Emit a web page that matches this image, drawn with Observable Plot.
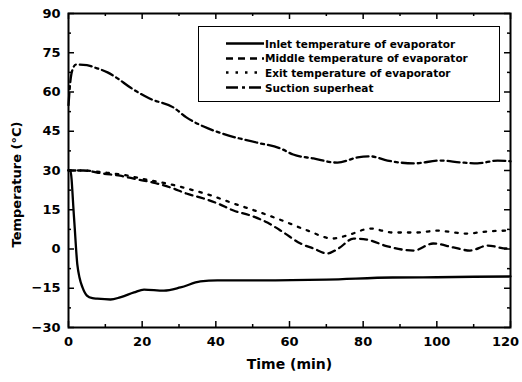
<!DOCTYPE html>
<html>
<head>
<meta charset="utf-8">
<script src="https://cdn.jsdelivr.net/npm/d3@7"></script>
<script src="https://cdn.jsdelivr.net/npm/@observablehq/plot@0.6"></script>
<style>
  html, body { margin: 0; padding: 0; background: #fff; }
  #chart { position: relative; width: 522px; height: 382px; font-family: "DejaVu Sans", sans-serif; }
  #legend { position: absolute; left: 198px; top: 26px; width: 302px; height: 76px; border: 1.5px solid #000; background: #fff; box-sizing: border-box; }
  #legend .row { position: absolute; left: 27px; height: 15px; display: flex; align-items: center; }
  #legend .row span { font-size: 10.5px; font-weight: bold; margin-left: 1px; white-space: nowrap; }
</style>
</head>
<body>
<div id="chart"></div>
<script>
const seriesNames = ["Inlet temperature of evaporator", "Middle temperature of evaporator", "Exit temperature of evaporator", "Suction superheat"];
const dashes = [null, "7,5", "2.5,7", "12,4,3,4"];

const inletT = [0, 0.5, 1.5, 2.4, 3, 3.8, 5, 6.5, 7.8, 11.4, 14, 17.8, 20.5, 25.9, 30.4, 35.8, 40.4, 52, 70, 88, 100, 110, 120];
const inletV = [30, 30, 12, -6, -11, -14.7, -17.8, -18.8, -19, -19.3, -18.5, -16.6, -15.5, -15.9, -14.7, -12.4, -12, -12, -11.7, -10.9, -10.8, -10.6, -10.5];

const middleT = [0, 4, 9.5, 14, 18.7, 23, 27.7, 32, 36.7, 40.5, 44.8, 49.4, 54, 58.4, 63, 66.5, 70.3, 73.3, 77.4, 81, 86.6, 93.7, 99, 104.5, 109, 113.8, 119, 120];
const middleV = [30, 30, 28.8, 28, 26.6, 25.4, 23.5, 21.2, 19.3, 17.4, 14.7, 12.8, 10.1, 6.3, 2.1, 0.2, -1.7, 0.2, 4, 3.6, 1, -0.6, 2.1, 0.6, -0.6, 1.3, 0.2, 0.2];

const exitT = [0, 4, 10, 15, 21.5, 28, 34, 39, 44, 52, 58, 65, 71.7, 75.7, 82, 88, 94.7, 100, 108, 113.7, 119, 120];
const exitV = [30, 30, 29.2, 28.3, 26.4, 24.6, 22.4, 20.3, 17.8, 14, 10.9, 7, 4, 5.2, 7.8, 6.3, 6.3, 7, 5.9, 6.7, 7, 7];

const superT = [0, 0.5, 1.2, 2, 5, 7, 10.6, 13, 16.8, 22, 28.6, 32, 36.7, 42, 51, 57.6, 61, 66.5, 73, 78.5, 82, 86.6, 93.7, 101, 106.4, 111, 116.5, 120];
const superV = [55, 64, 69, 70.5, 70.3, 69.4, 67.5, 65.5, 61.7, 57.5, 54, 50.3, 46.8, 44, 40.7, 38.4, 36.1, 34.6, 33, 35, 35.4, 33.8, 32.7, 33.8, 33.1, 32.7, 33.8, 33.5];

const xTicks = [0, 20, 40, 60, 80, 100, 120];
const xMinor = [10, 30, 50, 70, 90, 110];
const yTicks = [-30, -15, 0, 15, 30, 45, 60, 75, 90];
const yMinor = [-22.5, -7.5, 7.5, 22.5, 37.5, 52.5, 67.5, 82.5];

const series = [
  {name: seriesNames[0], t: inletT, v: inletV},
  {name: seriesNames[1], t: middleT, v: middleV},
  {name: seriesNames[2], t: exitT, v: exitV},
  {name: seriesNames[3], t: superT, v: superV}
];
const rows = series.flatMap(s => s.t.map((t, i) => ({name: s.name, t, v: s.v[i]})));

const W = 522, H = 382, mL = 68, mR = 12, mT = 13, mB = 55;
const pw = W - mL - mR, ph = H - mT - mB;

const lineMarks = series.map((s, i) => Plot.line(rows.filter(d => d.name === s.name), {
  x: "t", y: "v", stroke: "#000", strokeWidth: 2.3, strokeDasharray: dashes[i], curve: "monotone-x"
}));

const tickMarks = (vals, len) => [
  Plot.ruleX(vals, {x: d => d, insetTop: ph - len, stroke: "#000", strokeWidth: 1.5}),
  Plot.ruleX(vals, {x: d => d, insetBottom: ph - len, stroke: "#000", strokeWidth: 1.5})
];
const tickMarksY = (vals, len) => [
  Plot.ruleY(vals, {y: d => d, insetRight: pw - len, stroke: "#000", strokeWidth: 1.5}),
  Plot.ruleY(vals, {y: d => d, insetLeft: pw - len, stroke: "#000", strokeWidth: 1.5})
];

const xLast = xTicks.slice(-1);
const xRest = xTicks.slice(0, -1);

const chart = Plot.plot({
  width: W, height: H,
  marginLeft: mL, marginRight: mR, marginTop: mT, marginBottom: mB,
  style: {fontFamily: "'DejaVu Sans', sans-serif", background: "#fff"},
  x: {domain: [0, 120]},
  y: {domain: [-30, 90]},
  marks: [
    ...lineMarks,
    ...tickMarks(xTicks, 6), ...tickMarks(xMinor, 3),
    ...tickMarksY(yTicks, 6), ...tickMarksY(yMinor, 3),
    Plot.frame({stroke: "#000", strokeWidth: 2}),
    Plot.axisX({ticks: xRest, tickSize: 0, tickPadding: 9, fontSize: 13, fontWeight: "bold", label: null}),
    Plot.axisX({ticks: xLast, tickSize: 0, tickPadding: 9, dx: -5, fontSize: 13, fontWeight: "bold", label: null}),
    Plot.axisY({ticks: yTicks, tickSize: 0, tickPadding: 8, fontSize: 13, fontWeight: "bold", label: null}),
    Plot.text(["Time (min)"], {frameAnchor: "bottom", dy: 41, fontSize: 14, fontWeight: "bold", fill: "#000"}),
    Plot.text(["Temperature (\u00B0C)"], {frameAnchor: "left", textAnchor: "middle", dx: -52, dy: 14, rotate: -90, fontSize: 13, fontWeight: "bold", fill: "#000"})
  ]
});
document.getElementById("chart").appendChild(chart);

// legend
const legend = document.createElement("div");
legend.id = "legend";
seriesNames.forEach((n, i) => {
  const row = document.createElement("div");
  row.className = "row";
  row.style.top = (9 + i * 14.7) + "px";
  const svg = d3.create("svg").attr("width", 38).attr("height", 15);
  svg.append("line").attr("x1", 0).attr("x2", 38).attr("y1", 7.5).attr("y2", 7.5)
    .attr("stroke", "#000").attr("stroke-width", 2.3).attr("stroke-dasharray", dashes[i]);
  row.appendChild(svg.node());
  const sp = document.createElement("span");
  sp.textContent = n;
  row.appendChild(sp);
  legend.appendChild(row);
});
document.getElementById("chart").appendChild(legend);
</script>
</body>
</html>
